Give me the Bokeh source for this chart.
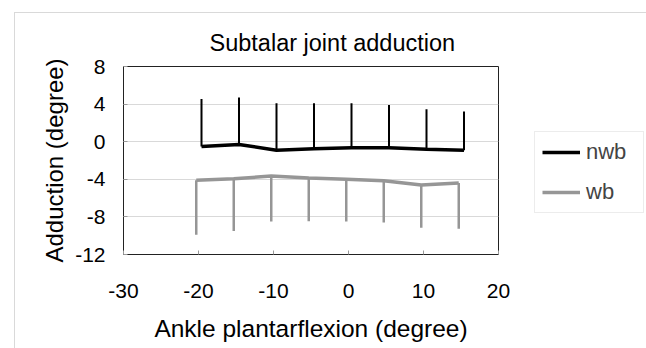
from bokeh.plotting import figure
from bokeh.layouts import row
from bokeh.models import Legend, LegendItem, FixedTicker, Title
from bokeh.embed import file_html
from bokeh.resources import INLINE

# Mean adduction with one-sided standard deviation, non-weight-bearing (nwb)
nwb_x = [-19.6, -14.6, -9.6, -4.6, 0.4, 5.4, 10.4, 15.4]
nwb_mean = [-0.5, -0.3, -0.9, -0.75, -0.65, -0.65, -0.8, -0.9]
nwb_sd = [5.05, 5.0, 5.0, 4.85, 4.75, 4.55, 4.25, 4.1]

# Weight-bearing (wb)
wb_x = [-20.3, -15.3, -10.3, -5.3, -0.3, 4.7, 9.7, 14.7]
wb_mean = [-4.1, -3.95, -3.65, -3.85, -4.0, -4.15, -4.6, -4.4]
wb_sd = [5.8, 5.55, 4.85, 4.6, 4.5, 4.45, 4.55, 4.85]

x_ticks = [-30, -20, -10, 0, 10, 20]
y_ticks = [-12, -8, -4, 0, 4, 8]

FONT = "Liberation Sans"
BLACK = "#000000"
GREY = "#969696"
NWB_STYLE = dict(line_color=BLACK, line_width=3.5)
WB_STYLE = dict(line_color=GREY, line_width=3.5)

p = figure(
    width=498, height=336,
    x_range=(-30, 20), y_range=(-12, 8),
    output_backend="svg", toolbar_location=None,
    min_border_left=108, min_border_right=15,
    min_border_top=53, min_border_bottom=95,
)

p.title = Title(text="Subtalar joint adduction", align="left", offset=86,
                text_font=FONT, text_font_size="23.5px", text_font_style="normal",
                text_color="#000000", standoff=21)

p.outline_line_color = "#222222"
p.outline_line_width = 1
p.background_fill_color = "white"
p.border_fill_color = "white"

p.xgrid.visible = False
p.ygrid.grid_line_color = "#d9d9d9"
p.ygrid.grid_line_width = 1

p.xaxis.ticker = FixedTicker(ticks=x_ticks)
p.yaxis.ticker = FixedTicker(ticks=y_ticks)
p.xaxis.major_label_overrides = {t: str(t) for t in x_ticks}
p.yaxis.major_label_overrides = {t: str(t) for t in y_ticks}
for ax in (p.xaxis[0], p.yaxis[0]):
    ax.axis_line_color = None
    ax.major_tick_in = 4
    ax.major_tick_out = 0
    ax.major_tick_line_color = "#999999"
    ax.minor_tick_line_color = None
    ax.major_label_text_font = FONT
    ax.major_label_text_font_size = "21px"
    ax.major_label_text_color = "#000000"
    ax.axis_label_text_font = FONT
    ax.axis_label_text_font_style = "normal"
    ax.axis_label_text_color = "#000000"

p.xaxis.axis_label = "Ankle plantarflexion (degree)"
p.yaxis.axis_label = "Adduction (degree)"
p.xaxis.axis_label_text_font_size = "24.5px"
p.yaxis.axis_label_text_font_size = "24px"
p.xaxis.major_label_standoff = 29
p.xaxis.axis_label_standoff = 14
p.yaxis.major_label_standoff = 18
p.yaxis.axis_label_standoff = 4

# error bars: nwb upward, wb downward
nwb_top = [m + s for m, s in zip(nwb_mean, nwb_sd)]
wb_bot = [m - s for m, s in zip(wb_mean, wb_sd)]
p.segment(x0=nwb_x, y0=nwb_mean, x1=nwb_x, y1=nwb_top, line_color=BLACK, line_width=2)
p.segment(x0=wb_x, y0=wb_mean, x1=wb_x, y1=wb_bot, line_color=GREY, line_width=2.5)

p.line(nwb_x, nwb_mean, **NWB_STYLE)
p.line(wb_x, wb_mean, **WB_STYLE)

# Legend panel to the right of the chart; its lines sit outside the
# visible range so only the legend entries show.
q = figure(
    width=134, height=336, x_range=(100, 101), y_range=(100, 101),
    output_backend="svg", toolbar_location=None,
    min_border=0, min_border_left=0, min_border_right=0,
    min_border_top=0, min_border_bottom=0,
)
q.axis.visible = False
q.grid.visible = False
q.outline_line_color = None
q.border_fill_color = "white"
q.background_fill_color = "white"
l_nwb = q.line(nwb_x, nwb_mean, **NWB_STYLE)
l_wb = q.line(wb_x, wb_mean, **WB_STYLE)

legend = Legend(
    items=[LegendItem(label="nwb", renderers=[l_nwb]),
           LegendItem(label="wb", renderers=[l_wb])],
    location=(21, 41),
    padding=7, spacing=14, margin=0,
    glyph_width=38, glyph_height=24, label_height=24, label_width=50,
    label_standoff=6,
    label_text_font=FONT, label_text_font_size="22px",
    border_line_color="#d9d9d9", border_line_width=1,
    background_fill_color="white",
)
q.add_layout(legend)

layout = row(p, q, spacing=0)
layout.margin = (12, 0, 0, 14)
layout.styles = {"border-top": "1px solid #d9d9d9", "border-left": "1px solid #d9d9d9"}

open("out.html", "w").write(file_html(layout, INLINE))
